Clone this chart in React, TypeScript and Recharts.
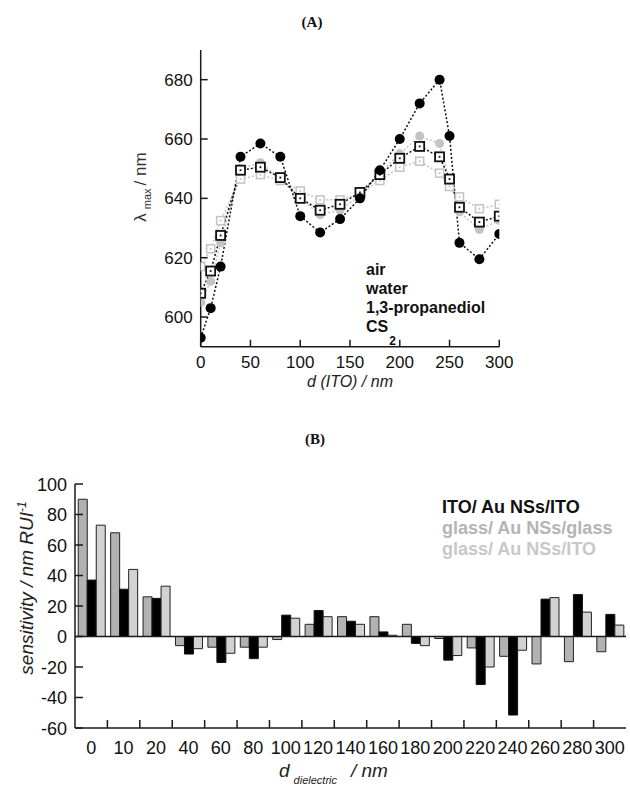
import React from 'react';
import { LineChart, Line, XAxis, YAxis, BarChart, Bar, ReferenceLine } from 'recharts';

// ---------- Chart (A) data ----------
const dITO = [0, 10, 20, 40, 60, 80, 100, 120, 140, 160, 180, 200, 220, 240, 250, 260, 280, 300];
const seriesBlackCircle = [593, 603, 617, 654, 658.5, 654, 634, 628.5, 633, 640, 649.5, 660, 672, 680, 661, 625, 619.5, 628];
const seriesBlackSquare = [608, 615.5, 627.5, 649.5, 650.5, 647, 640, 636, 638, 642, 648, 653.5, 657.5, 654, 646.5, 637, 632, 634];
const seriesGrayCircle = [605, 612, 625, 650, 652, 646.5, 640, 634.5, 636, 641, 648.5, 655, 661, 658.5, 646, 635.5, 629.5, 632.5];
const seriesGraySquare = [617, 623, 632.5, 646.5, 648, 646, 642.5, 639.5, 639.5, 641.5, 646, 650.5, 652.5, 648.5, 644, 640.5, 636.5, 638];
const xTicksA = [0, 50, 100, 150, 200, 250, 300];
const yTicksA = [600, 620, 640, 660, 680];
const legendA = ['air', 'water', '1,3-propanediol'];

// ---------- Chart (B) data ----------
const categories = ['0', '10', '20', '40', '60', '80', '100', '120', '140', '160', '180', '200', '220', '240', '260', '280', '300'];
const glassGlass = [90, 68, 26, -6, -7, -7, -2, 8, 13, 13, 8, -1.3, -7.5, -13, -18, -16.5, -10];
const itoIto = [37, 31, 25, -11.5, -17, -14.5, 14, 17, 10, 3, -4.5, -15.5, -31.5, -51.5, 24.5, 27.5, 14.5];
const glassIto = [73, 44, 33, -8, -11, -7, 12, 13, 8, 0.8, -6, -12.5, -20, -9, 25.5, 16, 7.5];
const yTicksB = [-60, -40, -20, 0, 20, 40, 60, 80, 100];
const legendB = ['ITO/ Au NSs/ITO', 'glass/ Au NSs/glass', 'glass/ Au NSs/ITO'];

const lineData = dITO.map((d, i) => ({
  d,
  bc: seriesBlackCircle[i],
  bs: seriesBlackSquare[i],
  gc: seriesGrayCircle[i],
  gs: seriesGraySquare[i],
}));

const barData = categories.map((cat, i) => ({
  cat,
  gg: glassGlass[i],
  ito: itoIto[i],
  gi: glassIto[i],
}));

const FONT = '"Liberation Sans", Arial, sans-serif';
const SERIF = '"Liberation Serif", "Times New Roman", serif';
const AX = '#1a1a1a';
const GRAY_LINE = '#c4c4c4';

// plot geometry of chart B (for group boundary tick marks)
const B_PLOT_W = 551;
const HALF_BAND = B_PLOT_W / categories.length / 2;

const squareDot = (size: number, color: string, sw: number) => (props: any) => {
  const { cx, cy, index } = props;
  if (cx == null || cy == null) return <g key={`s${index}`} />;
  return (
    <g key={`s${index}`}>
      <rect
        x={cx - size / 2}
        y={cy - size / 2}
        width={size}
        height={size}
        fill="#fff"
        stroke={color}
        strokeWidth={sw}
      />
      <rect x={cx - 0.9} y={cy - 0.9} width={1.8} height={1.8} fill={color} />
    </g>
  );
};

// --- chart A ticks ---
const BottomTickA = (props: any) => {
  const { x, y, payload } = props;
  return (
    <g>
      <line x1={x} y1={y} x2={x} y2={y - 7} stroke={AX} strokeWidth={1.5} />
      <text x={x} y={y + 21} textAnchor="middle" fontSize={17} fontFamily={FONT} fill="#111">
        {payload.value}
      </text>
    </g>
  );
};
const TopTickA = (props: any) => {
  const { x, y } = props;
  return <line x1={x} y1={y} x2={x} y2={y + 7} stroke={AX} strokeWidth={1.5} />;
};
const LeftTickA = (props: any) => {
  const { x, y, payload } = props;
  return (
    <g>
      <line x1={x} y1={y} x2={x + 7} y2={y} stroke={AX} strokeWidth={1.5} />
      <text x={x - 8} y={y + 6} textAnchor="end" fontSize={17} fontFamily={FONT} fill="#111">
        {payload.value}
      </text>
    </g>
  );
};
const RightTickA = (props: any) => {
  const { x, y } = props;
  return <line x1={x} y1={y} x2={x - 7} y2={y} stroke={AX} strokeWidth={1.5} />;
};

// --- chart B ticks ---
const BottomTickB = (props: any) => {
  const { x, y, payload, index } = props;
  return (
    <g>
      {index < categories.length - 1 && (
        <line x1={x + HALF_BAND} y1={y} x2={x + HALF_BAND} y2={y - 8} stroke={AX} strokeWidth={1.5} />
      )}
      <text x={x} y={y + 26} textAnchor="middle" fontSize={18} fontFamily={FONT} fill="#111">
        {payload.value}
      </text>
    </g>
  );
};
const TopTickB = (props: any) => {
  const { x, y, index } = props;
  if (index >= categories.length - 1) return <g />;
  return <line x1={x + HALF_BAND} y1={y} x2={x + HALF_BAND} y2={y + 8} stroke={AX} strokeWidth={1.5} />;
};
const LeftTickB = (props: any) => {
  const { x, y, payload } = props;
  return (
    <g>
      <line x1={x} y1={y} x2={x + 8} y2={y} stroke={AX} strokeWidth={1.5} />
      <text x={x - 8} y={y + 6.5} textAnchor="end" fontSize={18} fontFamily={FONT} fill="#111">
        {payload.value}
      </text>
    </g>
  );
};
const RightTickB = (props: any) => {
  const { x, y } = props;
  return <line x1={x} y1={y} x2={x - 8} y2={y} stroke={AX} strokeWidth={1.5} />;
};

export default function App() {
  return (
    <div style={{ position: 'absolute', left: 0, top: 0, width: 630, height: 787, background: '#fff', overflow: 'hidden' }}>
      {/* Chart A */}
      <div style={{ position: 'absolute', left: 0, top: 0 }}>
        <LineChart width={630} height={400} data={lineData} margin={{ top: 50, left: 150.7, right: 130.7, bottom: 23.3 }}>
          <XAxis
            dataKey="d"
            type="number"
            domain={[0, 300]}
            ticks={xTicksA}
            allowDataOverflow
            height={30}
            tickSize={0}
            tickMargin={0}
            tickLine={false}
            axisLine={{ stroke: AX, strokeWidth: 1.5 }}
            tick={<BottomTickA />}
            interval={0}
          />
          <XAxis
            xAxisId="top"
            orientation="top"
            dataKey="d"
            type="number"
            domain={[0, 300]}
            ticks={xTicksA}
            allowDataOverflow
            height={0}
            tickSize={0}
            tickMargin={0}
            tickLine={false}
            axisLine={{ stroke: AX, strokeWidth: 1.5 }}
            tick={<TopTickA />}
            interval={0}
          />
          <YAxis
            type="number"
            domain={[590, 690]}
            ticks={yTicksA}
            allowDataOverflow
            width={50}
            tickSize={0}
            tickMargin={0}
            tickLine={false}
            axisLine={{ stroke: AX, strokeWidth: 1.5 }}
            tick={<LeftTickA />}
            interval={0}
          />
          <YAxis
            yAxisId="right"
            orientation="right"
            type="number"
            domain={[590, 690]}
            ticks={yTicksA}
            allowDataOverflow
            width={0}
            tickSize={0}
            tickMargin={0}
            tickLine={false}
            axisLine={{ stroke: AX, strokeWidth: 1.5 }}
            tick={<RightTickA />}
            interval={0}
          />
          <Line
            dataKey="gs"
            stroke={GRAY_LINE}
            strokeWidth={1.5}
            strokeDasharray="2 2"
            dot={squareDot(8, GRAY_LINE, 1.5)}
            isAnimationActive={false}
          />
          <Line
            dataKey="gc"
            stroke={GRAY_LINE}
            strokeWidth={1.5}
            strokeDasharray="2 2"
            dot={{ r: 4.5, fill: GRAY_LINE, stroke: GRAY_LINE, strokeWidth: 0 }}
            isAnimationActive={false}
          />
          <Line
            dataKey="bs"
            stroke="#111"
            strokeWidth={1.5}
            strokeDasharray="2 2"
            dot={squareDot(9, '#111', 1.8)}
            isAnimationActive={false}
          />
          <Line
            dataKey="bc"
            stroke="#111"
            strokeWidth={1.5}
            strokeDasharray="2 2"
            dot={{ r: 5, fill: '#000', stroke: '#000', strokeWidth: 0 }}
            isAnimationActive={false}
          />
        </LineChart>
      </div>

      {/* Chart B */}
      <div style={{ position: 'absolute', left: 0, top: 400 }}>
        <BarChart
          width={630}
          height={387}
          data={barData}
          margin={{ top: 84, left: 25, right: 4, bottom: 19 }}
          barCategoryGap="10%"
          barGap={0}
        >
          <XAxis
            dataKey="cat"
            height={40}
            tickSize={0}
            tickMargin={0}
            tickLine={false}
            axisLine={{ stroke: AX, strokeWidth: 1.5 }}
            tick={<BottomTickB />}
            interval={0}
          />
          <XAxis
            xAxisId="top"
            orientation="top"
            dataKey="cat"
            height={0}
            tickSize={0}
            tickMargin={0}
            tickLine={false}
            axisLine={{ stroke: AX, strokeWidth: 1.5 }}
            tick={<TopTickB />}
            interval={0}
          />
          <YAxis
            type="number"
            domain={[-60, 100]}
            ticks={yTicksB}
            allowDataOverflow
            width={50}
            tickSize={0}
            tickMargin={0}
            tickLine={false}
            axisLine={{ stroke: AX, strokeWidth: 1.5 }}
            tick={<LeftTickB />}
            interval={0}
          />
          <YAxis
            yAxisId="right"
            orientation="right"
            type="number"
            domain={[-60, 100]}
            ticks={yTicksB}
            allowDataOverflow
            width={0}
            tickSize={0}
            tickMargin={0}
            tickLine={false}
            axisLine={{ stroke: AX, strokeWidth: 1.5 }}
            tick={<RightTickB />}
            interval={0}
          />
          <Bar dataKey="gg" fill="#b2b2b2" stroke="#222" strokeWidth={1} isAnimationActive={false} />
          <Bar dataKey="ito" fill="#000" stroke="#111" strokeWidth={1} isAnimationActive={false} />
          <Bar dataKey="gi" fill="#d2d2d2" stroke="#222" strokeWidth={1} isAnimationActive={false} />
          <ReferenceLine y={0} stroke={AX} strokeWidth={1.5} />
        </BarChart>
      </div>

      {/* Text overlay */}
      <svg
        width={630}
        height={787}
        style={{ position: 'absolute', left: 0, top: 0, pointerEvents: 'none' }}
      >
        <text x={312} y={27} textAnchor="middle" fontFamily={SERIF} fontWeight="bold" fontSize={15} fill="#111">
          (A)
        </text>
        <text x={315} y={444} textAnchor="middle" fontFamily={SERIF} fontWeight="bold" fontSize={15} fill="#111">
          (B)
        </text>

        {/* A axis labels */}
        <text
          x={146}
          y={187}
          transform="rotate(-90 146 187)"
          textAnchor="middle"
          fontFamily={FONT}
          fontSize={17}
          fill="#333"
        >
          λ
          <tspan dx={4} dy={5} fontSize={11}>max</tspan>
          <tspan dx={3} dy={-5}>/ nm</tspan>
        </text>
        <text x={350} y={387} textAnchor="middle" fontFamily={FONT} fontStyle="italic" fontSize={16} fill="#222">
          d (ITO) / nm
        </text>

        {/* A legend (text) */}
        {legendA.map((t, i) => (
          <text key={t} x={366} y={275 + i * 19} fontFamily={FONT} fontWeight="bold" fontSize={16} fill="#111">
            {t}
          </text>
        ))}
        <text x={366} y={332} fontFamily={FONT} fontWeight="bold" fontSize={16} fill="#111">
          CS
          <tspan dx={1} dy={13} fontSize={12}>2</tspan>
        </text>

        {/* B legend */}
        {legendB.map((t, i) => (
          <text
            key={t}
            x={442}
            y={513 + i * 21}
            fontFamily={FONT}
            fontWeight="bold"
            fontSize={18}
            fill={i === 0 ? '#111' : i === 1 ? '#b4b4b4' : '#c8c8c8'}
          >
            {t}
          </text>
        ))}

        {/* B axis labels */}
        <text
          x={33}
          y={588}
          transform="rotate(-90 33 588)"
          textAnchor="middle"
          fontFamily={FONT}
          fontStyle="italic"
          fontSize={19}
          fill="#222"
        >
          sensitivity / nm RUI
          <tspan dy={-7} fontSize={12}>-1</tspan>
        </text>
        <text x={279} y={777} fontFamily={FONT} fontStyle="italic" fontSize={19} fill="#222">
          d
          <tspan dx={4} dy={7} fontSize={11}>dielectric</tspan>
          <tspan dx={14} dy={-7}>/ nm</tspan>
        </text>
      </svg>
    </div>
  );
}
